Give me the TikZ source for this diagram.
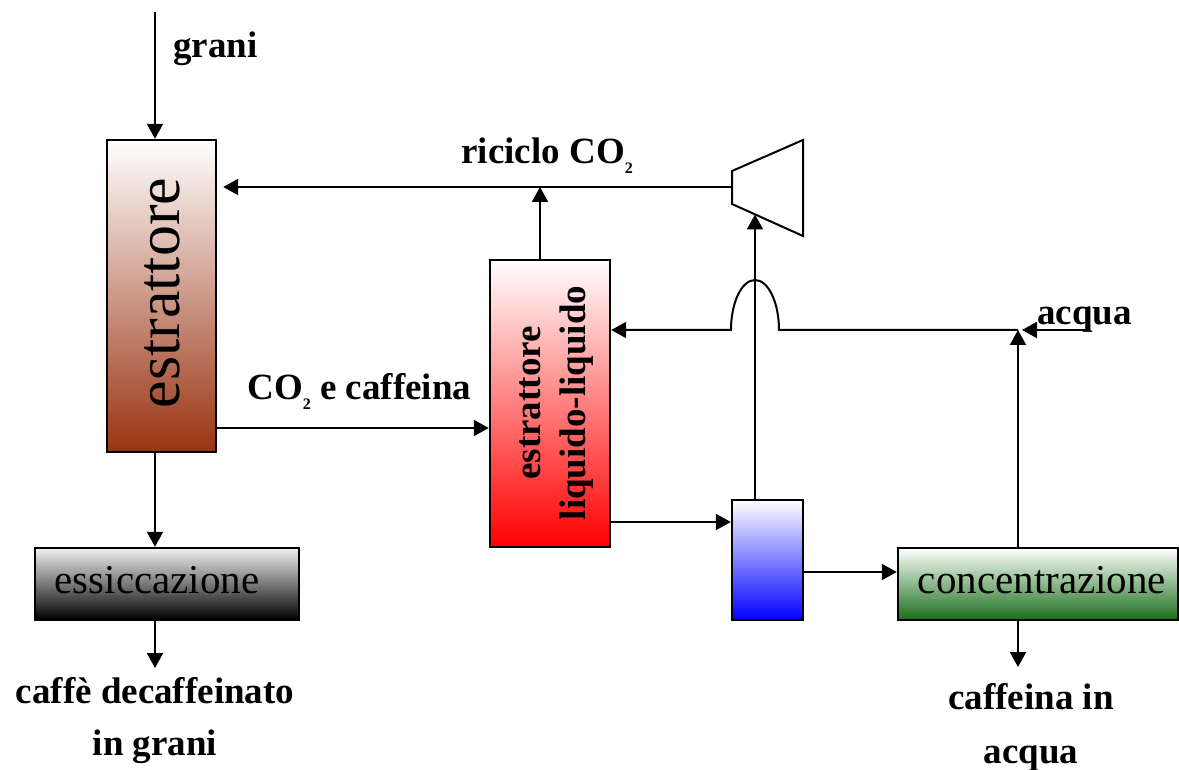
\documentclass[tikz,border=0pt]{standalone}
\usepackage{fontspec}
\setmainfont{Liberation Serif}
\usepackage{xcolor}
\usetikzlibrary{arrows.meta}
\definecolor{rust}{RGB}{153,51,17}
\definecolor{leaf}{RGB}{25,110,25}
\newcommand{\COdue}{CO\raisebox{-5pt}{\fontsize{8}{8}\selectfont 2}}
\tikzset{
  flow/.style={line width=1pt,-{Triangle[length=7.5pt,width=8pt]}},
  pipe/.style={line width=1pt},
  unit/.style={draw,line width=1.2pt,inner sep=0pt},
  lbl/.style={font=\fontsize{18.5}{26}\selectfont\bfseries,inner sep=0pt},
  boxlbl/.style={font=\fontsize{20.5}{24}\selectfont,inner sep=0pt},
}

\begin{document}
\begin{tikzpicture}[x=0.5pt,y=-0.5pt]
  \useasboundingbox (0,0) rectangle (1179,770);
  \node[unit,minimum width=54.5pt,minimum height=156pt,top color=white,bottom color=rust] (estr) at (161.5,296) {};
  \node[rotate=90,inner sep=0pt,font=\fontsize{31}{31}\selectfont] (estrlbl) at (162,293) {estrattore};
  \node[unit,minimum width=132pt,minimum height=36pt,top color=white!94!black,bottom color=black] (essic) at (167,584) {};
  \node[boxlbl] (essiclbl) at (157,580) {essiccazione};
  \node[unit,minimum width=60pt,minimum height=143.5pt,top color=white,bottom color=red] (lle) at (550,403.5) {};
  \node[lbl,rotate=90,align=center,font=\fontsize{18.5}{22.5}\selectfont\bfseries] (llelbl) at (557,403) {estrattore\\liquido-liquido};
  \node[unit,minimum width=35.5pt,minimum height=60pt,top color=white,bottom color=blue] (sep) at (767.5,560) {};
  \node[unit,minimum width=140pt,minimum height=36pt,top color=white,bottom color=leaf] (conc) at (1038,584) {};
  \node[boxlbl] (conclbl) at (1042,580) {concentrazione};
  \draw[pipe] (732,171) -- (803,140) -- (803,236) -- (732,204) -- cycle;
  \coordinate (compin) at (732,187);
  \coordinate (compbot) at (755,214.5);
  \coordinate (feed) at (155,12);
  \coordinate (rise) at (540,187);
  \coordinate (mix) at (1018,330);
  \coordinate (water) at (1085,330);
  % labels
  \node[lbl,anchor=west] (grani) at (173,49) {grani};
  \node[lbl,anchor=west] (riciclo) at (461,156) {riciclo \COdue};
  \node[lbl,anchor=west] (coout) at (247,391) {\COdue{} e caffeina};
  \node[lbl,anchor=west] (acqua) at (1037,320) {acqua};
  \node[lbl,align=center] (decaf) at (155,721) {caffè decaffeinato\\in grani};
  \node[lbl,align=center,font=\fontsize{18.5}{27}\selectfont\bfseries] (caff) at (1031,727) {caffeina in\\acqua};
  % connections
  \draw[flow] (feed) -- (feed |- estr.north);
  \draw[flow] (feed |- estr.south) -- (feed |- essic.north);
  \draw[flow] (feed |- essic.south) -- (155,668);
  \draw[flow] (estr.east |- 0,428) -- (lle.west |- 0,428);
  \draw[flow,shorten >=3pt] (compin) -- (estr.east |- compin);
  \draw[flow] (rise |- lle.north) -- (rise);
  \draw[flow] (compbot |- sep.north) -- (compbot);
  \draw[flow] (lle.east |- 0,522) -- (sep.west |- 0,522);
  \draw[flow] (sep.east |- 0,572) -- (conc.west |- 0,572);
  \draw[flow] (mix |- conc.north) -- (mix);
  \draw[flow,shorten >=2pt] (water) -- (mix);
  \draw[flow] (mix) -- (779,330) arc[start angle=0,end angle=180,x radius=12pt,y radius=25pt] -- (lle.east |- mix);
  \draw[flow] (mix |- conc.south) -- (1018,667);
\end{tikzpicture}
\end{document}
